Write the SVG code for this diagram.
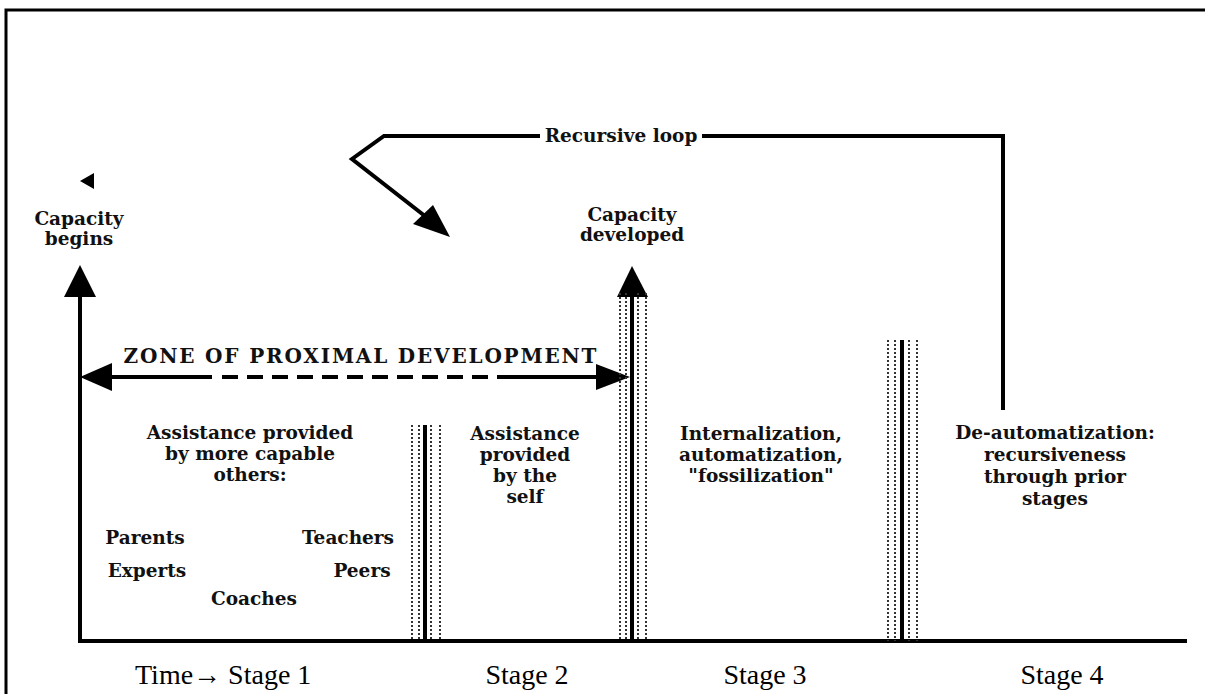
<svg xmlns="http://www.w3.org/2000/svg" width="1205" height="694" viewBox="0 0 1205 694">
<style>
.t{font-family:"DejaVu Serif","Liberation Serif",serif;font-weight:bold;font-size:18.5px;fill:#111;text-anchor:middle}
.l{font-family:"Liberation Serif","Times New Roman",serif;font-size:28px;fill:#000}
.ln{stroke:#000;stroke-width:4;fill:none}
.dot{stroke:#333;stroke-width:2;stroke-dasharray:2 2;fill:none}
.hd{fill:#000;stroke:none}
</style>
<rect width="1205" height="694" fill="#fff"/>
<path d="M6,694 V10 H1205" fill="none" stroke="#000" stroke-width="3"/>

<g id="connectors">
  <path class="ln" d="M80,295 V641 H1187"/>
  <polygon class="hd" points="80,265 64,297 96,297"/>
  <polygon class="hd" points="80,181 94,173 94,189"/>
  <path class="ln" d="M110,377 H212"/>
  <path class="ln" d="M222,377 H490" stroke-dasharray="16 9"/>
  <path class="ln" d="M497,377 H598"/>
  <polygon class="hd" points="80,377 112,363 112,391"/>
  <polygon class="hd" points="630,377 596,364 596,390"/>
  <path class="ln" d="M632,295 V641"/>
  <polygon class="hd" points="632,266 617,297 648,297"/>
  <path class="dot" d="M620,293 V641 M626,293 V641 M638,293 V641 M646,293 V641"/>
  <path class="ln" d="M425,425 V641"/>
  <path class="dot" d="M412,425 V641 M419,425 V641 M431,425 V641 M440,425 V641"/>
  <path class="ln" d="M902,340 V641"/>
  <path class="dot" d="M888,340 V641 M895,340 V641 M909,340 V641 M917,340 V641"/>
  <path class="ln" d="M1003,410 V136 H702 M540,136 H384 L352,159 L430,220" stroke-linejoin="miter"/>
  <polygon class="hd" points="450,237 413,224 433,205"/>
</g>

<g id="capacity-begins"><text class="t" x="79" y="225">Capacity</text><text class="t" x="79" y="245">begins</text></g>
<g id="capacity-developed"><text class="t" x="632" y="221">Capacity</text><text class="t" x="632" y="241">developed</text></g>
<g id="recursive-loop"><text class="t" x="621" y="142">Recursive loop</text></g>
<g id="zpd"><text class="t" x="360" y="363" style="font-size:20px" textLength="473" lengthAdjust="spacing">ZONE OF PROXIMAL DEVELOPMENT</text></g>
<g id="stage1-text">
  <text class="t" x="250" y="439">Assistance provided</text>
  <text class="t" x="250" y="460">by more capable</text>
  <text class="t" x="250" y="481">others:</text>
  <text class="t" x="145" y="544">Parents</text>
  <text class="t" x="348" y="544">Teachers</text>
  <text class="t" x="147" y="577">Experts</text>
  <text class="t" x="362" y="577">Peers</text>
  <text class="t" x="254" y="605">Coaches</text>
</g>
<g id="stage2-text">
  <text class="t" x="525" y="440">Assistance</text>
  <text class="t" x="525" y="461">provided</text>
  <text class="t" x="525" y="482">by the</text>
  <text class="t" x="525" y="503">self</text>
</g>
<g id="stage3-text">
  <text class="t" x="761" y="440">Internalization,</text>
  <text class="t" x="761" y="461">automatization,</text>
  <text class="t" x="761" y="482">"fossilization"</text>
</g>
<g id="stage4-text">
  <text class="t" x="1055" y="439">De-automatization:</text>
  <text class="t" x="1055" y="461">recursiveness</text>
  <text class="t" x="1055" y="483">through prior</text>
  <text class="t" x="1055" y="505">stages</text>
</g>
<g id="stage-labels">
  <text class="l" x="135" y="684">Time→ Stage 1</text>
  <text class="l" x="527" y="684" text-anchor="middle">Stage 2</text>
  <text class="l" x="765" y="684" text-anchor="middle">Stage 3</text>
  <text class="l" x="1062" y="684" text-anchor="middle">Stage 4</text>
</g>
</svg>
